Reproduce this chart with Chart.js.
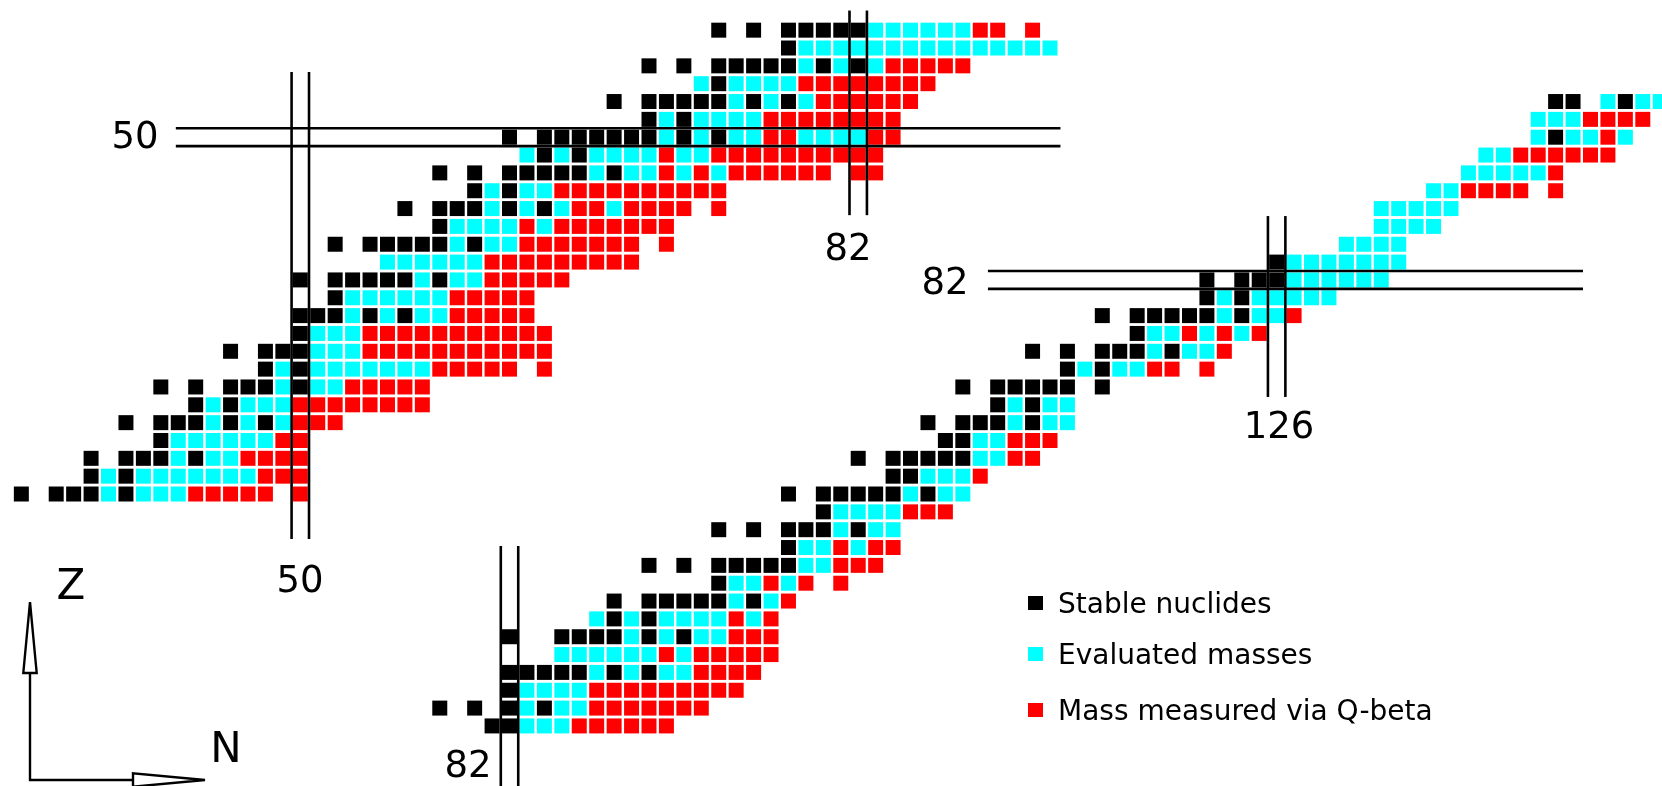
<!DOCTYPE html>
<html>
<head>
<meta charset="utf-8">
<script src="https://cdn.jsdelivr.net/npm/chart.js@4.4.1/dist/chart.umd.min.js"></script>
<style>
  html, body { margin: 0; padding: 0; background: #fff; }
  #wrap { width: 1662px; height: 786px; }
</style>
</head>
<body>
<div id="wrap"><canvas id="chart" width="1662" height="786"></canvas></div>
<script>
// upper part of the chart: Z = 30..56, one list of N per row
const upperZ = [30, 31, 32, 33, 34, 35, 36, 37, 38, 39, 40, 41, 42, 43, 44, 45, 46, 47, 48, 49, 50, 51, 52, 53, 54, 55, 56];
const upperStable = [
  [34, 36, 37, 38, 40], [38, 40], [38, 40, 41, 42, 44], [42], [40, 42, 43, 44, 46, 48], [44, 46],
  [42, 44, 46, 47, 48, 50], [48, 50], [46, 48, 49, 50], [50], [50, 51, 52, 54, 56], [52],
  [50, 52, 53, 54, 55, 56, 58], [], [52, 54, 55, 56, 57, 58, 60], [58], [56, 58, 59, 60, 62, 64],
  [60, 62], [58, 60, 62, 63, 64, 65, 66, 68], [64, 66], [62, 64, 65, 66, 67, 68, 69, 70, 72, 74],
  [70, 72], [68, 70, 71, 72, 73, 74, 76, 78], [74], [70, 72, 74, 75, 76, 77, 78, 80, 82], [78],
  [74, 76, 78, 79, 80, 81, 82]
];
const upperEvaluated = [
  [39, 41, 42, 43], [39, 41, 42, 43, 44, 45, 46, 47], [43, 45, 46], [43, 44, 45, 46, 47, 48],
  [45, 47, 49], [45, 47, 48, 49], [49, 51, 52], [49, 51, 52, 53, 54, 55, 56, 57], [51, 52, 53],
  [51, 52, 53], [53, 55, 57, 58], [53, 54, 55, 56, 57, 58], [57, 59, 60], [55, 56, 57, 58, 59, 60],
  [59, 61, 62], [59, 60, 61, 62, 64], [61, 63, 65, 68], [61, 63, 64], [67, 69, 70, 72, 74],
  [63, 65, 67, 68, 69, 70, 72, 73], [71, 73, 75, 76, 79, 80, 81, 82], [71, 73, 74, 75, 76],
  [75, 77, 79], [73, 75, 76, 77, 78], [79, 81, 83],
  [79, 80, 81, 82, 83, 84, 85, 86, 87, 88, 89, 90, 91, 92, 93], [83, 84, 85, 86, 87, 88]
];
const upperQbeta = [
  [44, 45, 46, 47, 48, 50], [48, 49, 50], [47, 48, 49, 50], [49, 50], [50, 51, 52],
  [50, 51, 52, 53, 54, 55, 56, 57], [53, 54, 55, 56, 57], [58, 59, 60, 61, 62, 64],
  [54, 55, 56, 57, 58, 59, 60, 61, 62, 63, 64], [54, 55, 56, 57, 58, 59, 60, 61, 62, 63, 64],
  [59, 60, 61, 62, 63], [59, 60, 61, 62, 63], [61, 62, 63, 64, 65],
  [61, 62, 63, 64, 65, 66, 67, 68, 69], [63, 64, 65, 66, 67, 68, 69, 71],
  [63, 65, 66, 67, 68, 69, 70, 71], [66, 67, 69, 70, 71, 72, 74],
  [65, 66, 67, 68, 69, 70, 71, 72, 73, 74], [71, 73, 75, 76, 77, 78, 79, 80, 82, 83],
  [71, 74, 75, 76, 77, 78, 79, 80, 81, 82, 83], [77, 78, 83, 84],
  [77, 78, 79, 80, 81, 82, 83, 84], [80, 81, 82, 83, 84, 85], [79, 80, 81, 82, 83, 84, 85, 86],
  [84, 85, 86, 87, 88], [], [89, 90, 92]
];

// lower part of the chart: Z = 57..92
const lowerZ = [57, 58, 59, 60, 61, 62, 63, 64, 65, 66, 67, 68, 69, 70, 71, 72, 73, 74, 75, 76, 77, 78, 79, 80, 81, 82, 83, 84, 85, 86, 87, 88, 89, 90, 91, 92];
const lowerStable = [
  [81, 82], [78, 80, 82, 84], [82], [82, 83, 84, 85, 86, 88, 90], [], [82, 85, 86, 87, 88, 90, 92],
  [88, 90], [88, 90, 91, 92, 93, 94, 96], [94], [90, 92, 94, 95, 96, 97, 98], [98],
  [94, 96, 98, 99, 100, 102], [100], [98, 100, 101, 102, 103, 104, 106], [104, 105],
  [102, 104, 105, 106, 107, 108], [107, 108], [106, 108, 109, 110, 112], [110, 112],
  [108, 110, 111, 112, 113, 114, 116], [114, 116], [112, 114, 116, 117, 118, 120], [118],
  [116, 118, 119, 120, 121, 122, 124], [122, 124], [122, 124, 125, 126], [126],
  [], [], [], [], [], [], [142], [], [142, 143, 146]
];
const lowerEvaluated = [
  [83, 84, 85], [83, 85, 86], [83, 84, 85, 86], [87, 89, 91, 92], [85, 86, 87, 88, 89, 90, 92],
  [89, 91, 93, 94], [87, 89, 91, 92, 93, 94, 96], [95, 97], [95, 96, 98], [99, 100], [99, 100, 102],
  [101, 103, 104], [101, 102, 103, 104], [105, 107, 108], [106, 107, 108], [109, 110], [109, 110],
  [111, 113, 114], [111, 113, 114], [], [115, 117, 118], [119, 121, 122], [119, 120, 122, 124],
  [123, 125, 126], [123, 125, 126, 127, 128, 129], [127, 128, 129, 130, 131, 132],
  [127, 128, 129, 130, 131, 132, 133], [130, 131, 132, 133], [132, 133, 134, 135],
  [132, 133, 134, 135, 136], [135, 136], [137, 138, 139, 140, 141], [138, 139],
  [141, 143, 144, 146], [141, 142, 143], [145, 147, 148]
];
const lowerQbeta = [
  [86, 87, 88, 89, 90, 91], [87, 88, 89, 90, 91, 92, 93], [87, 88, 89, 90, 91, 92, 93, 94, 95],
  [93, 94, 95, 96], [91, 93, 94, 95, 96, 97], [95, 96, 97], [95, 97], [98], [97, 99, 101],
  [101, 102, 103], [101, 103, 104], [], [105, 106, 107], [], [109], [111, 112], [111, 112, 113],
  [], [], [], [119, 120, 122], [123], [121, 123, 125], [127], [], [], [], [], [], [],
  [137, 138, 139, 140, 142], [142], [140, 141, 142, 143, 144, 145], [145], [144, 145, 146, 147], []
];

const legendLabels = ['Stable nuclides', 'Evaluated masses', 'Mass measured via Q-beta'];
const colors = ['#000000', '#00ffff', '#ff0000'];

function toPoints(zs, rows) {
  const pts = [];
  zs.forEach((z, i) => rows[i].forEach(n => pts.push({ x: n, y: z })));
  return pts;
}

function cells(label, data, color, xId, yId) {
  return {
    label: label,
    data: data,
    xAxisID: xId,
    yAxisID: yId,
    pointStyle: 'rect',
    pointRadius: 10.6,
    pointHoverRadius: 10.6,
    pointBorderWidth: 0,
    backgroundColor: color,
    borderColor: color
  };
}

// lines, numbers, arrows and legend drawn on top
const decorations = {
  id: 'decorations',
  afterDatasetsDraw(chart) {
    const ctx = chart.ctx;
    const s = chart.scales;
    ctx.save();
    ctx.strokeStyle = '#000';
    ctx.lineWidth = 2.6;

    function vline(xs, ys, n, z0, z1) {
      ctx.beginPath();
      ctx.moveTo(xs.getPixelForValue(n), ys.getPixelForValue(z0));
      ctx.lineTo(xs.getPixelForValue(n), ys.getPixelForValue(z1));
      ctx.stroke();
    }
    function hline(xs, ys, z, n0, n1) {
      ctx.beginPath();
      ctx.moveTo(xs.getPixelForValue(n0), ys.getPixelForValue(z));
      ctx.lineTo(xs.getPixelForValue(n1), ys.getPixelForValue(z));
      ctx.stroke();
    }

    // upper part: N = 50, Z = 50, N = 82
    [49.5, 50.5].forEach(n => vline(s.x, s.y, n, 53.66, 27.48));
    [49.5, 50.5].forEach(z => hline(s.x, s.y, z, 42.86, 93.6));
    [81.5, 82.5].forEach(n => vline(s.x, s.y, n, 57.1, 45.63));
    // lower part: N = 82, Z = 82, N = 126
    [81.5, 82.5].forEach(n => vline(s.xl, s.yl, n, 67.08, 50));
    [81.5, 82.5].forEach(z => hline(s.xl, s.yl, z, 109.44, 143.57));
    [125.5, 126.5].forEach(n => vline(s.xl, s.yl, n, 85.58, 75.44));

    ctx.fillStyle = '#000';
    ctx.textAlign = 'center';
    ctx.textBaseline = 'middle';
    ctx.font = '37px "DejaVu Sans", sans-serif';
    ctx.fillText('50', 135, 138);
    ctx.fillText('50', 300, 582);
    ctx.fillText('82', 848, 250);
    ctx.fillText('82', 945, 284);
    ctx.fillText('126', 1279, 428);
    ctx.fillText('82', 468, 767);

    // Z / N arrows
    ctx.lineWidth = 2.4;
    ctx.beginPath();
    ctx.moveTo(30, 673); ctx.lineTo(30, 780); ctx.lineTo(133, 780);
    ctx.stroke();
    ctx.beginPath();
    ctx.moveTo(30, 602); ctx.lineTo(36.7, 673); ctx.lineTo(23.3, 673); ctx.closePath();
    ctx.stroke();
    ctx.beginPath();
    ctx.moveTo(205, 780); ctx.lineTo(133, 773.3); ctx.lineTo(133, 786.7); ctx.closePath();
    ctx.stroke();
    ctx.font = '42px "DejaVu Sans", sans-serif';
    ctx.fillText('Z', 71, 588);
    ctx.fillText('N', 226, 751);

    // legend
    const ly = [603, 654, 710];
    ctx.font = '28px "DejaVu Sans", sans-serif';
    ctx.textAlign = 'left';
    legendLabels.forEach((t, i) => {
      ctx.fillStyle = colors[i];
      ctx.fillRect(1028, ly[i] - 7, 15, 14);
      ctx.fillStyle = '#000';
      ctx.fillText(t, 1058, ly[i] + 3);
    });
    ctx.restore();
  }
};

new Chart(document.getElementById('chart').getContext('2d'), {
  type: 'scatter',
  data: {
    datasets: [
      cells(legendLabels[0], toPoints(upperZ, upperStable), colors[0], 'x', 'y'),
      cells(legendLabels[1], toPoints(upperZ, upperEvaluated), colors[1], 'x', 'y'),
      cells(legendLabels[2], toPoints(upperZ, upperQbeta), colors[2], 'x', 'y'),
      cells(legendLabels[0], toPoints(lowerZ, lowerStable), colors[0], 'xl', 'yl'),
      cells(legendLabels[1], toPoints(lowerZ, lowerEvaluated), colors[1], 'xl', 'yl'),
      cells(legendLabels[2], toPoints(lowerZ, lowerQbeta), colors[2], 'xl', 'yl')
    ]
  },
  options: {
    responsive: false,
    animation: false,
    devicePixelRatio: 1,
    layout: { padding: 0, autoPadding: false },
    plugins: { legend: { display: false }, tooltip: { enabled: false } },
    events: [],
    scales: {
      x: { type: 'linear', display: false, min: 32.776, max: 128.102 },
      y: { type: 'linear', display: false, min: 13.633, max: 57.691 },
      xl: { type: 'linear', display: false, min: 52.776, max: 148.102 },
      yl: { type: 'linear', display: false, min: 53.633, max: 97.691 }
    }
  },
  plugins: [decorations]
});
</script>
</body>
</html>
